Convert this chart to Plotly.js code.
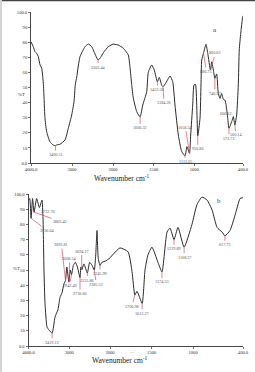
<!DOCTYPE html>
<html>
<head>
<meta charset="utf-8">
<script src="https://cdn.plot.ly/plotly-3.0.1.min.js"></script>
<style>
  html, body { margin: 0; padding: 0; background: #fff; }
  #chart { width: 255px; height: 372px; }
</style>
</head>
<body>
<div id="chart"></div>
<script>
// FTIR spectra of samples a and b: %T against wavenumber (cm-1).
// The wavenumber axis is expanded below 2000 cm-1, so each spectrum is
// split into a 4000-2000 part and a 2000-400 part on two side-by-side axes.

// ---- spectrum a ----
const aHighWn = [4000, 3944, 3902, 3861, 3822, 3780, 3739, 3700, 3680, 3660, 3620, 3540, 3460, 3400.51, 3373, 3293, 3171, 3090, 3007, 2951, 2920, 2885, 2805, 2683, 2602, 2520, 2420, 2363.44, 2300, 2237, 2115, 2000];
const aHighT  = [80.3, 77, 73.7, 72.6, 70.4, 65, 62.7, 53, 42, 30, 21, 14.1, 11.9, 11.5, 12, 12.4, 15.2, 23, 31.8, 40.6, 51.7, 57, 70.4, 77, 78.8, 77, 71, 68.2, 70, 73, 77, 78.8];

const aLowWn = [2000, 1935, 1873, 1812, 1790, 1770, 1750, 1708, 1666.32, 1634, 1585, 1566, 1524, 1492, 1453.58, 1430, 1401, 1384.26, 1350, 1319, 1298, 1265, 1237, 1196, 1154, 1113.05, 1090, 1058.54, 1044, 1019, 1003, 985, 956.86, 929, 917, 908, 886.75, 855, 834, 800.65, 785, 760, 746.57, 724, 704, 683, 663, 640, 622, 606.62, 588, 572.71, 539, 519, 500.14, 478, 458, 446, 428, 404, 400];
const aLowT  = [78.8, 78.1, 76, 71.5, 63, 52, 43, 34, 30.5, 38.4, 47.2, 60, 64.9, 61.6, 53.8, 56.7, 51.5, 50.5, 53, 56, 57.6, 53.8, 38.4, 18.5, 7.5, 4.8, 10.8, 6.4, 18.5, 38.4, 51.7, 52, 18, 29.6, 51.7, 68.2, 72.6, 78.6, 72.6, 61.6, 67, 60, 56, 59, 46, 42.8, 46, 42, 41.7, 38, 29.6, 23, 27.4, 30.7, 25.2, 31.8, 51.7, 74.8, 86, 96.9, 97.5];

const aPeaks = [3400.51, 2363.44, 1666.32, 1453.58, 1384.26, 1113.05, 1058.54, 956.86, 886.75, 800.65, 746.57, 606.62, 572.71, 500.14];

// ---- spectrum b ----
const bHighWn = [4000, 3970, 3936.64, 3900, 3863.42, 3800, 3732.76, 3669, 3644, 3620, 3595, 3546, 3497, 3419.13, 3350, 3276, 3227, 3178, 3129, 3092.81, 3060, 3008.54, 2975, 2943.49, 2900, 2850, 2800, 2736.66, 2715, 2694.17, 2640, 2555.86, 2500, 2440, 2385.53, 2350, 2319, 2290, 2245.99, 2200, 2100, 2000];
const bHighT  = [96, 97, 84, 97, 88, 97, 91, 96, 84, 50, 28, 12.5, 10.5, 8.5, 19, 24, 32, 35, 41, 43, 52, 42, 50, 47, 53, 55, 52, 45, 52, 50, 54, 48, 55, 53, 50, 60, 76, 58, 53, 55, 56, 58];

const bLowWn = [2000, 1880, 1783, 1735, 1700.98, 1675, 1613.27, 1579, 1543, 1495, 1423, 1374.53, 1314, 1278, 1229.89, 1182, 1108.37, 1014, 954, 893, 832, 772, 712, 652, 617.73, 556, 496, 436, 412, 400];
const bLowT  = [58, 64.5, 62, 49, 33.5, 36, 28, 50, 60, 65, 55, 48.7, 75, 77.6, 70, 78, 65, 80, 93, 98, 96, 89.5, 78, 75, 72.5, 76, 86, 97, 97.5, 97.5];

const bPeaks = [3936.64, 3863.42, 3732.76, 3419.13, 3092.81, 3008.54, 2943.49, 2736.66, 2694.17, 2555.86, 2385.53, 2245.99, 1700.98, 1613.27, 1374.53, 1229.89, 1108.37, 617.73];

// tick labels
const yTickVals = [0, 10, 20, 30, 40, 50, 60, 70, 80, 90, 100];
const yTickText = ['0.0', '10', '20', '30', '40', '50', '60', '70', '80', '90', '100.0'];
const xHighTickVals = [4000, 3000, 2000];
const xHighTickText = ['4000.0', '3000', '2000'];
const xLowTickVals = [1500, 1000, 400];
const xLowTickText = ['1500', '1000', '400.0'];

// ---- drawing ----
const W = 255, H = 372;
const px = v => v / W;           // horizontal pixel -> paper
const py = v => 1 - v / H;       // vertical pixel -> paper

const lineStyle = { color: '#2b2b2b', width: 1, shape: 'spline', smoothing: 0.5 };
const serif = 'Liberation Serif, Times New Roman, serif';

const traces = [
  { x: aHighWn, y: aHighT, xaxis: 'x',  yaxis: 'y',  mode: 'lines', line: lineStyle, hoverinfo: 'skip' },
  { x: aLowWn,  y: aLowT,  xaxis: 'x2', yaxis: 'y',  mode: 'lines', line: lineStyle, hoverinfo: 'skip' },
  { x: bHighWn, y: bHighT, xaxis: 'x3', yaxis: 'y2', mode: 'lines', line: lineStyle, hoverinfo: 'skip' },
  { x: bLowWn,  y: bLowT,  xaxis: 'x4', yaxis: 'y2', mode: 'lines', line: lineStyle, hoverinfo: 'skip' }
];

const tickFont = { family: serif, size: 4.6, color: '#333' };

function xAxis(range, domain, anchor, vals, text) {
  return {
    range: range, domain: domain, anchor: anchor,
    showgrid: false, zeroline: false,
    showline: true, linecolor: '#333', linewidth: 0.9,
    ticks: 'outside', ticklen: 2, tickwidth: 0.7, tickcolor: '#333',
    tickvals: vals, ticktext: text, tickfont: tickFont
  };
}
function yAxis(domain, anchor) {
  return {
    range: [0, 100], domain: domain, anchor: anchor,
    showgrid: false, zeroline: false,
    showline: true, linecolor: '#333', linewidth: 0.9,
    ticks: 'outside', ticklen: 2, tickwidth: 0.7, tickcolor: '#333',
    tickvals: yTickVals, ticktext: yTickText, tickfont: tickFont
  };
}

// peak labels: red leader line from the band to its wavenumber
const labelColor = '#e04a5e';
function peakNotes(peaks, wns, ts, xHigh, xLow, yref, offsets) {
  return peaks.map((p, i) => {
    const idx = wns.high.indexOf(p);
    const onHigh = idx >= 0;
    const t = onHigh ? ts.high[idx] : ts.low[wns.low.indexOf(p)];
    return {
      x: p, y: t, xref: onHigh ? xHigh : xLow, yref: yref,
      text: p.toFixed(2), showarrow: true, arrowhead: 0, arrowwidth: 0.7,
      arrowcolor: labelColor, standoff: 0, startstandoff: 0,
      ax: offsets[i][0], ay: offsets[i][1],
      font: { family: serif, size: 4.2, color: '#555' }
    };
  });
}

const aOffsets = [[0, 9], [0, 7], [0, 11], [0, 8], [1, 16], [0, 6], [-4, -26], [0, 13], [3, 18], [5, -17], [0, 15], [0, 8], [0, 10], [1, 10]];
const bOffsets = [[16, 12], [26, 9], [9, 4], [0, 9],
                  [-4, -36], [1, -24], [-2, 11], [0, 16], [0, -19], [0, 7], [2, 14], [0, 8],
                  [-3, 11], [0, 10], [0, 10], [0, 9], [0, 10], [0, 9]];

const annotations = []
  .concat(peakNotes(aPeaks, { high: aHighWn, low: aLowWn }, { high: aHighT, low: aLowT }, 'x', 'x2', 'y', aOffsets))
  .concat(peakNotes(bPeaks, { high: bHighWn, low: bLowWn }, { high: bHighT, low: bLowT }, 'x3', 'x4', 'y2', bOffsets))
  .concat([
    { text: 'Wavenumber cm<sup>-1</sup>', xref: 'paper', yref: 'paper', x: px(122), y: py(178), showarrow: false,
      font: { family: serif, size: 7.5, color: '#222' } },
    { text: 'Wavenumber cm<sup>-1</sup>', xref: 'paper', yref: 'paper', x: px(120), y: py(367), showarrow: false,
      font: { family: serif, size: 7.5, color: '#222' } },
    { text: '\u2014 <sup>1</sup>', xref: 'paper', yref: 'paper', x: px(133), y: py(356), showarrow: false,
      font: { family: serif, size: 4, color: '#888' } },
    { text: '%T', xref: 'paper', yref: 'paper', x: px(16), y: py(90), showarrow: false,
      font: { family: serif, size: 4.8, color: '#333' } },
    { text: '%T', xref: 'paper', yref: 'paper', x: px(11), y: py(273), showarrow: false,
      font: { family: serif, size: 4.8, color: '#333' } },
    { text: 'a', xref: 'paper', yref: 'paper', x: px(219), y: py(24), showarrow: false,
      font: { family: serif, size: 7, color: '#333' } },
    { text: 'b', xref: 'paper', yref: 'paper', x: px(223), y: py(201), showarrow: false,
      font: { family: serif, size: 7, color: '#333' } }
  ]);

const layout = {
  width: W, height: H,
  margin: { l: 0, r: 0, t: 0, b: 0 },
  paper_bgcolor: '#fff', plot_bgcolor: 'rgba(0,0,0,0)',
  showlegend: false,
  xaxis:  xAxis([4000, 2000], [px(31), px(113)], 'y', xHighTickVals, xHighTickText),
  xaxis2: xAxis([2000, 400],  [px(113), px(243)], 'y', xLowTickVals, xLowTickText),
  xaxis3: xAxis([4000, 2000], [px(28.5), px(110)], 'y2', xHighTickVals, xHighTickText),
  xaxis4: xAxis([2000, 400],  [px(110), px(243)], 'y2', xLowTickVals, xLowTickText),
  yaxis:  yAxis([py(163), py(12)], 'x'),
  yaxis2: yAxis([py(346), py(194)], 'x3'),
  annotations: annotations,
  shapes: [
    { type: 'line', xref: 'paper', yref: 'paper', x0: 0, x1: 1, y0: py(0.6), y1: py(0.6),
      line: { color: '#444', width: 1.2 } },
    { type: 'line', xref: 'paper', yref: 'paper', x0: px(1), x1: px(1), y0: 0, y1: 1,
      line: { color: '#d4d4d4', width: 2 } }
  ]
};

Plotly.newPlot('chart', traces, layout, { staticPlot: true, displayModeBar: false });
</script>
</body>
</html>
